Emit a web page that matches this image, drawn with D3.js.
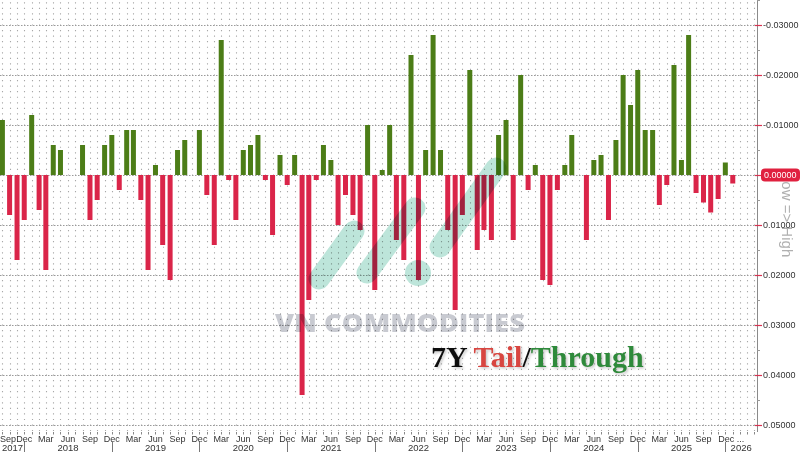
<!DOCTYPE html>
<html><head><meta charset="utf-8">
<script src="https://cdn.jsdelivr.net/npm/d3@7"></script>
<style>body{margin:0;background:#fff}svg{display:block}</style>
</head><body>
<svg id="c" width="800" height="452"></svg>
<script>
// ---- data (7Y auction tail(+)/through(-), monthly from Sep 2017) ----
const firstMonth = "2017-09";
const tailThrough = [
  -0.011, 0.008, 0.017, 0.009, -0.012, 0.007, 0.019, -0.006, -0.005, 0.000,
   0.000, -0.006, 0.009, 0.005, -0.006, -0.008, 0.003, -0.009, -0.009, 0.005,
   0.019, -0.002, 0.014, 0.021, -0.005, -0.007, 0.000, -0.009, 0.004, 0.014,
  -0.027, 0.001, 0.009, -0.005, -0.006, -0.008, 0.001, 0.012, -0.004, 0.002,
  -0.004, 0.044, 0.025, 0.001, -0.006, -0.003, 0.010, 0.004, 0.008, 0.011,
  -0.010, 0.023, -0.001, -0.010, 0.013, 0.017, -0.024, 0.021, -0.005, -0.028,
  -0.005, 0.011, 0.027, 0.008, -0.021, 0.015, 0.011, 0.013, -0.008, -0.011,
   0.013, -0.020, 0.003, -0.002, 0.021, 0.022, 0.003, -0.002, -0.008, 0.000,
   0.013, -0.003, -0.004, 0.009, -0.007, -0.020, -0.014, -0.021, -0.009, -0.009,
   0.006, 0.002, -0.022, -0.003, -0.028, 0.0036, 0.0055, 0.0075, 0.0048, -0.0025,
   0.0017
];
const yTickValues = [-0.03, -0.02, -0.01, 0.00, 0.01, 0.02, 0.03, 0.04, 0.05];
const yearLabels = ["2017","2018","2019","2020","2021","2022","2023","2024","2025","2026"];
const titleParts = [["7Y ", "#111"], ["Tail", "#d8453f"], ["/", "#111"], ["Through", "#2f8a3a"]];
const watermarkText = "VN COMMODITIES";
const sideNote = "Low => High";

// ---- layout ----
const W = 800, H = 452;
const plotL = 0, plotR = 757, plotT = 0, plotB = 431;
const svg = d3.select("#c");
const parse = d3.timeParse("%Y-%m");
const start = parse(firstMonth);
const months = tailThrough.map((_, i) => d3.timeMonth.offset(start, i));

const x = d3.scaleTime()
  .domain([new Date(2017, 7, 22), new Date(2026, 3, 12)])
  .range([plotL, plotR]);
const y = d3.scaleLinear().domain([-0.035, 0.0512]).range([plotT, plotB]);

svg.append("rect").attr("width", W).attr("height", H).attr("fill", "#fff");

const defs = svg.append("defs");
const f = defs.append("filter").attr("id", "sh").attr("x", "-10%").attr("y", "-30%").attr("width", "130%").attr("height", "170%");
f.append("feDropShadow").attr("dx", 1.5).attr("dy", 1.5).attr("stdDeviation", 1.2)
  .attr("flood-color", "#888").attr("flood-opacity", 0.45);

// ---- minor dot grid (monthly columns) ----
const gridMonths = d3.timeMonth.range(new Date(2017, 7, 1), new Date(2026, 4, 1))
  .filter(d => x(d) >= plotL && x(d) <= plotR - 2);
const step = y(0.01) - y(0);
const dotPeriod = step / 9;
const y0 = y(0) - dotPeriod * Math.ceil((y(0) - plotT) / dotPeriod) - 0.6;
svg.append("g").selectAll("line").data(gridMonths).join("line")
  .attr("x1", d => Math.round(x(d)) + 0.5).attr("x2", d => Math.round(x(d)) + 0.5)
  .attr("y1", y0).attr("y2", plotB)
  .attr("stroke", "#a8a8a8").attr("stroke-width", 1.1)
  .attr("stroke-dasharray", `1.2,${(dotPeriod - 1.2).toFixed(3)}`);

// ---- major horizontal grid ----
svg.append("g").selectAll("line").data(yTickValues).join("line")
  .attr("x1", plotL).attr("x2", plotR)
  .attr("y1", d => Math.round(y(d)) + 0.5).attr("y2", d => Math.round(y(d)) + 0.5)
  .attr("stroke", "#9a9a9a").attr("stroke-width", 1)
  .attr("stroke-dasharray", "1.5,1.5");

// ---- bars ----
svg.append("g").selectAll("rect").data(tailThrough).join("rect")
  .attr("x", (d, i) => x(months[i]) - 2.5)
  .attr("width", 5)
  .attr("y", d => Math.min(y(d), y(0)))
  .attr("height", d => Math.abs(y(d) - y(0)))
  .attr("fill", d => d > 0 ? "#da2549" : "#4c7d17");

// ---- watermark (logo + text) ----
const wm = svg.append("g").style("mix-blend-mode", "multiply");
const capsules = [[319, 279, 354, 231], [367, 273, 415, 208], [440, 247, 496, 168]];
wm.selectAll("line").data(capsules).join("line")
  .attr("x1", d => d[0]).attr("y1", d => d[1]).attr("x2", d => d[2]).attr("y2", d => d[3])
  .attr("stroke", "#bde5da").attr("stroke-width", 21).attr("stroke-linecap", "round");
wm.append("circle").attr("cx", 418).attr("cy", 273).attr("r", 13).attr("fill", "#bde5da");
wm.append("text").attr("x", 275).attr("y", 332)
  .attr("font-family", "Open Sans, sans-serif").attr("font-weight", 800).attr("font-size", 25)
  .attr("textLength", 250).attr("lengthAdjust", "spacingAndGlyphs")
  .attr("fill", "#c8cad1").text(watermarkText);

// ---- title ----
const t = svg.append("text").attr("x", 431).attr("y", 367)
  .attr("font-family", "Liberation Serif, Times New Roman, serif").attr("font-weight", "bold")
  .attr("font-size", 30).attr("filter", "url(#sh)");
t.selectAll("tspan").data(titleParts).join("tspan").attr("fill", d => d[1]).text(d => d[0]);

// ---- x axis ----
const xa = svg.append("g").attr("font-family", "Liberation Sans, Arial, sans-serif").attr("fill", "#333");
xa.selectAll("line.tk").data(gridMonths).join("line").attr("class", "tk")
  .attr("x1", d => Math.round(x(d)) + 0.5).attr("x2", d => Math.round(x(d)) + 0.5)
  .attr("y1", plotB + 1).attr("y2", plotB + 3.5).attr("stroke", "#888");
const quarterMonths = d3.timeMonth.range(new Date(2017, 8, 1), new Date(2026, 0, 1), 3);
const fmtMonth = d3.timeFormat("%b");
xa.selectAll("text.m").data(quarterMonths).join("text").attr("class", "m")
  .attr("x", (d, i) => i === quarterMonths.length - 1 ? x(d) - 7 : Math.max(x(d), 8))
  .attr("y", 441.5).attr("font-size", 9)
  .attr("text-anchor", (d, i) => i === quarterMonths.length - 1 ? "start" : "middle")
  .text((d, i) => i === quarterMonths.length - 1 ? fmtMonth(d) + " ..." : fmtMonth(d));
const seps = yearLabels.slice(1).map(yr => x(new Date(+yr - 1, 11, 1)));
xa.selectAll("line.sep").data(seps).join("line").attr("class", "sep")
  .attr("x1", d => Math.round(d) + 0.5).attr("x2", d => Math.round(d) + 0.5)
  .attr("y1", 442).attr("y2", 452).attr("stroke", "#777");
const bounds = [plotL].concat(seps, [plotR]);
xa.selectAll("text.yr").data(yearLabels).join("text").attr("class", "yr")
  .attr("x", (d, i) => i === 0 ? 2 : (bounds[i] + bounds[i + 1]) / 2)
  .attr("text-anchor", (d, i) => i === 0 ? "start" : "middle")
  .attr("y", 451).attr("font-size", 9.5).text(d => d);

// ---- side note ----
svg.append("text").attr("transform", `translate(782,173) rotate(90)`)
  .attr("font-family", "Liberation Sans, Arial, sans-serif").attr("font-size", 15)
  .attr("fill", "#b0b0b0").text(sideNote);

// ---- right axis ----
const ya = svg.append("g").attr("font-family", "Liberation Sans, Arial, sans-serif");
ya.append("line").attr("x1", plotR + 0.5).attr("x2", plotR + 0.5).attr("y1", plotT).attr("y2", plotB + 1)
  .attr("stroke", "#8a8a8a");
const minorTicks = d3.range(-0.035, 0.0501, 0.005).filter(v => Math.abs((v * 1000) % 10) > 1e-6);
ya.selectAll("line.mn").data(minorTicks).join("line").attr("class", "mn")
  .attr("x1", plotR).attr("x2", plotR + 3)
  .attr("y1", d => Math.round(y(d)) + 0.5).attr("y2", d => Math.round(y(d)) + 0.5).attr("stroke", "#999");
ya.selectAll("line.mj").data(yTickValues).join("line").attr("class", "mj")
  .attr("x1", plotR - 2).attr("x2", plotR + 5)
  .attr("y1", d => Math.round(y(d)) + 0.5).attr("y2", d => Math.round(y(d)) + 0.5)
  .attr("stroke", "#d9304f").attr("stroke-width", 1.2);
const fmtY = d => d3.format(".5f")(d).replace("\u2212", "-");
ya.append("rect").attr("x", 761).attr("y", y(0) - 6.5).attr("width", 39).attr("height", 13)
  .attr("rx", 4).attr("fill", "#e0213f");
ya.selectAll("text").data(yTickValues).join("text")
  .attr("x", d => d === 0 ? 764 : 763).attr("y", d => y(d)).attr("dy", "0.35em")
  .attr("font-size", 9).attr("fill", d => d === 0 ? "#fff" : "#333")
  .text(d => fmtY(d));
</script>
</body></html>
